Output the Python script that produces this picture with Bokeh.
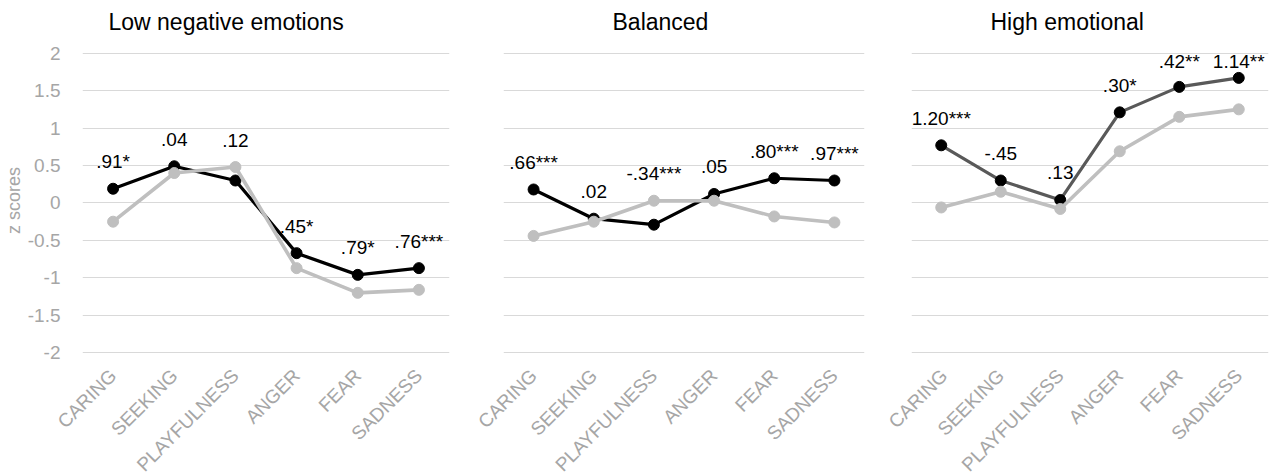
import math
from bokeh.plotting import figure
from bokeh.layouts import row
from bokeh.models import ColumnDataSource, FixedTicker
from bokeh.embed import file_html
from bokeh.resources import INLINE
from bokeh.core.properties import value

categories = ["CARING", "SEEKING", "PLAYFULNESS", "ANGER", "FEAR", "SADNESS"]
y_ticks = [-2, -1.5, -1, -0.5, 0, 0.5, 1, 1.5, 2]
y_tick_labels = {-2: "-2", -1.5: "-1.5", -1: "-1", -0.5: "-0.5", 0: "0",
                 0.5: "0.5", 1: "1", 1.5: "1.5", 2: "2"}

titles = ["Low negative emotions", "Balanced", "High emotional"]

low_black = [0.19, 0.49, 0.30, -0.67, -0.96, -0.87]
low_gray = [-0.25, 0.40, 0.48, -0.87, -1.20, -1.16]
low_labels = [".91*", ".04", ".12", ".45*", ".79*", ".76***"]

bal_black = [0.18, -0.21, -0.29, 0.12, 0.33, 0.30]
bal_gray = [-0.44, -0.25, 0.03, 0.03, -0.18, -0.26]
bal_labels = [".66***", ".02", "-.34***", ".05", ".80***", ".97***"]

high_black = [0.77, 0.30, 0.04, 1.21, 1.55, 1.67]
high_gray = [-0.06, 0.15, -0.08, 0.69, 1.15, 1.25]
high_labels = ["1.20***", "-.45", ".13", ".30*", ".42**", "1.14**"]

FONT = "Liberation Sans"
GRID = "#D9D9D9"
TICK = "#A6A6A6"
GRAY = "#BFBFBF"

PX_PER_UNIT = 74.85
Y_MIN, Y_MAX = -2.05, 2.116
FRAME_H = round((Y_MAX - Y_MIN) * PX_PER_UNIT)
LABEL_GAP = 27      # px between highest point and label centre
LABEL_TOP_MIN = 8   # px kept between top gridline and label centre


def make_panel(title, black, gray, labels, black_line, frame_w, bl, br,
               show_y, title_offset):
    p = figure(x_range=categories, y_range=(Y_MIN, Y_MAX),
               frame_width=frame_w, frame_height=FRAME_H,
               min_border_left=bl, min_border_right=br,
               min_border_top=44, min_border_bottom=100,
               output_backend="svg", toolbar_location=None)
    p.outline_line_color = None
    p.background_fill_color = "white"
    p.border_fill_color = "white"

    p.title.text = title
    p.title.text_font = FONT
    p.title.text_font_size = "23px"
    p.title.text_font_style = "normal"
    p.title.text_color = "#000000"
    p.title.align = "left"
    p.title.vertical_align = "top"
    p.title.offset = title_offset
    p.title.standoff = 16

    p.xgrid.grid_line_color = None
    p.ygrid.grid_line_color = GRID
    p.ygrid.grid_line_width = 1
    p.yaxis.ticker = FixedTicker(ticks=y_ticks)

    p.xaxis.axis_line_color = None
    p.xaxis.major_tick_line_color = None
    p.xaxis.minor_tick_line_color = None
    p.xaxis.major_label_orientation = math.pi / 4
    p.xaxis.major_label_text_font = FONT
    p.xaxis.major_label_text_font_size = "19px"
    p.xaxis.major_label_text_color = TICK
    p.xaxis.major_label_standoff = 10

    if show_y:
        p.yaxis.axis_line_color = None
        p.yaxis.major_tick_line_color = None
        p.yaxis.minor_tick_line_color = None
        p.yaxis.major_label_text_font = FONT
        p.yaxis.major_label_text_font_size = "19px"
        p.yaxis.major_label_text_color = TICK
        p.yaxis.major_label_standoff = 16
        p.yaxis.major_label_overrides = y_tick_labels
        p.yaxis.axis_label = "z scores"
        p.yaxis.axis_label_text_font = FONT
        p.yaxis.axis_label_text_font_size = "18px"
        p.yaxis.axis_label_text_font_style = "normal"
        p.yaxis.axis_label_text_color = TICK
        p.yaxis.axis_label_standoff = 1
    else:
        p.yaxis.visible = False

    cap = max(y_ticks) - LABEL_TOP_MIN / PX_PER_UNIT
    label_y = [min(max(b, g) + LABEL_GAP / PX_PER_UNIT, cap)
               for b, g in zip(black, gray)]
    src = ColumnDataSource(dict(x=categories, black=black, gray=gray,
                                label=labels, ly=label_y))

    p.line("x", "black", source=src, line_color=black_line, line_width=3.2)
    p.scatter("x", "black", source=src, size=11, fill_color="#000000",
              line_color="#000000")
    p.line("x", "gray", source=src, line_color=GRAY, line_width=3.6)
    p.scatter("x", "gray", source=src, size=11, fill_color=GRAY,
              line_color=GRAY)

    p.text("x", "ly", text="label", source=src, text_align="center",
           text_baseline="middle",
           text_font=value(FONT), text_font_size="19px", text_color="#000000")
    return p


p1 = make_panel(titles[0], low_black, low_gray, low_labels, "#000000",
                367, 72, 20, True, 26)
p2 = make_panel(titles[1], bal_black, bal_gray, bal_labels, "#000000",
                361, 34, 20, False, 109)
p3 = make_panel(titles[2], high_black, high_gray, high_labels, "#595959",
                357, 27, 8, False, 79)

layout = row(p1, p2, p3)

open("out.html", "w").write(file_html(layout, INLINE))
